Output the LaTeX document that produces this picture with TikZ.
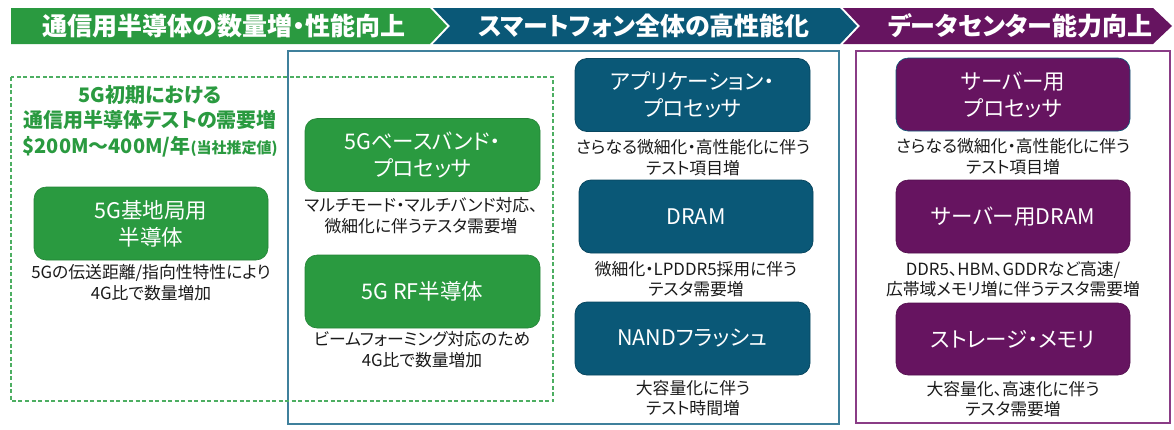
\documentclass[tikz,border=0pt]{standalone}
\usepackage{fontspec}
\setmainfont{Noto Sans CJK JP}[RawFeature={+palt}]
\definecolor{cgreen}{HTML}{2A9A40}
\definecolor{cgreenline}{HTML}{4DAE62}
\definecolor{cblue}{HTML}{0A5877}
\definecolor{cblueline}{HTML}{3F809C}
\definecolor{cpurple}{HTML}{661460}
\definecolor{cpurpleline}{HTML}{8A3C86}
\definecolor{ctext}{HTML}{1A1A1A}
\begin{document}
\begin{tikzpicture}[x=1pt,y=-1pt,
  hdrtext/.style={text=white,font=\fontsize{25}{28}\selectfont\bfseries,inner sep=0pt},
  card/.style={rounded corners=12pt,minimum width=235pt,minimum height=73pt,inner sep=0pt,
     text=white,align=center,font=\fontsize{21.5}{27}\selectfont},
  gcard/.style={card,fill=cgreen,draw=cgreen!85!black,line width=0.6pt},
  bcard/.style={card,fill=cblue,draw=cblue!80!black,line width=0.8pt},
  pcard/.style={card,fill=cpurple,draw=cpurple!80!black,line width=0.6pt},
  desc/.style={align=center,text=ctext,inner sep=0pt,font=\fontsize{16.8}{20.5}\selectfont},
  frame/.style={line width=1.4pt}
]
\useasboundingbox (0,0) rectangle (1174,429);
% header chevrons
\fill[cgreen] (11,8) -- (430,8) -- (447,26) -- (430,44) -- (11,44) -- cycle;
\fill[cblue] (433,8) -- (840,8) -- (857,26) -- (840,44) -- (433,44) -- (450,26) -- cycle;
\fill[cpurple] (843,8) -- (1153,8) -- (1172,26) -- (1153,44) -- (843,44) -- (860,26) -- cycle;
\node[hdrtext] (h1) at (224,26) {通信用半導体の数量増・性能向上};
\node[hdrtext] (h2) at (644,26) {スマートフォン全体の高性能化};
\node[hdrtext] (h3) at (1020,26) {データセンター能力向上};
% frames
\draw[frame,cblueline] (288,51) rectangle (839,424);
\draw[frame,cpurpleline] (856,51) rectangle (1170,423);
\draw[cgreenline,line width=1.3pt,dash pattern=on 4pt off 2.5pt] (11,77) rectangle (553,401);
% green column
\node[align=center,text=cgreen,inner sep=0pt,font=\fontsize{20}{25.5}\selectfont\bfseries] (title) at (150,121)
  {5G初期における\\通信用半導体テストの需要増\\\$200M～400M/年{\fontsize{15}{25}\selectfont(当社推定値)}};
\node[gcard,minimum width=234pt] (g1) at (151,223.5) {5G基地局用\\半導体};
\node[desc] (dg1) at (151,282.5) {5Gの伝送距離/指向性特性により\\4G比で数量増加};
\node[gcard] (gb) at (422.5,155) {5Gベースバンド・\\プロセッサ};
\node[desc] (dgb) at (421,215.5) {マルチモード・マルチバンド対応、\\微細化に伴うテスタ需要増};
\node[gcard] (grf) at (422.5,291.5) {5G RF半導体};
\node[desc] (dgrf) at (422,349.5) {ビームフォーミング対応のため\\4G比で数量増加};
% blue column
\node[bcard] (bap) at (692.5,95) {アプリケーション・\\プロセッサ};
\node[desc] (dap) at (693,157.5) {さらなる微細化・高性能化に伴う\\テスト項目増};
\node[bcard,minimum width=234pt] (bdram) at (696,216.5) {DRAM};
\node[desc] (ddram) at (696,279) {微細化・LPDDR5採用に伴う\\テスタ需要増};
\node[bcard] (bnand) at (692.5,338.5) {NANDフラッシュ};
\node[desc] (dnand) at (693,398) {大容量化に伴う\\テスト時間増};
% purple column
\node[pcard,minimum width=234pt,draw=cblue] (pproc) at (1013,94.5) {サーバー用\\プロセッサ};
\node[desc] (dpproc) at (1013,156.5) {さらなる微細化・高性能化に伴う\\テスト項目増};
\node[pcard,minimum width=234pt] (pdram) at (1013,216.5) {サーバー用DRAM};
\node[desc] (dpdram) at (1013,279) {DDR5、HBM、GDDRなど高速/\\広帯域メモリ増に伴うテスタ需要増};
\node[pcard,minimum width=234pt,minimum height=72pt] (pstor) at (1013,339) {ストレージ・メモリ};
\node[desc] (dpstor) at (1013,399) {大容量化、高速化に伴う\\テスタ需要増};
\end{tikzpicture}
\end{document}
